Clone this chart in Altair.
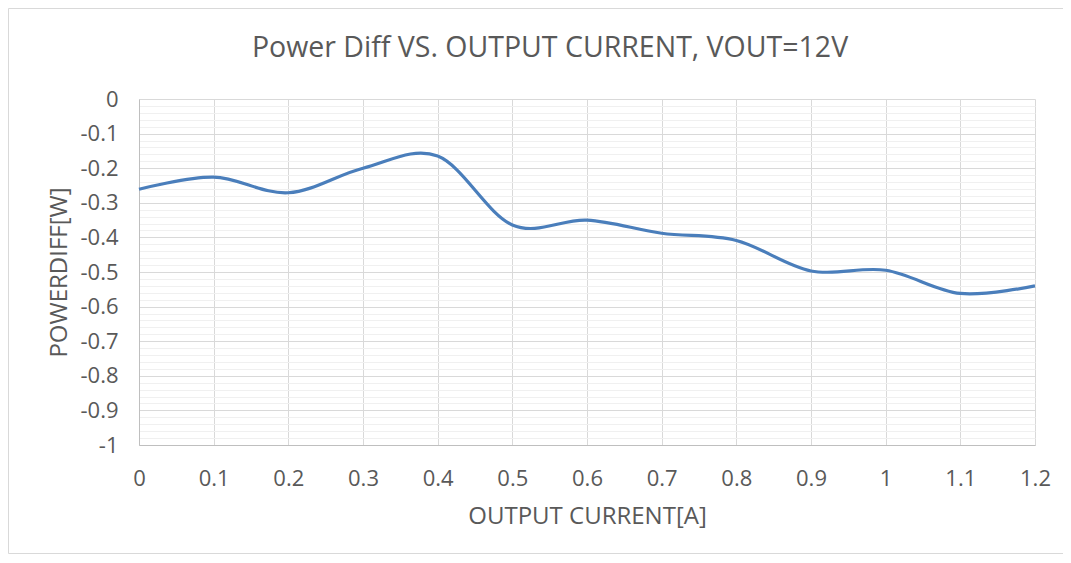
import altair as alt
import pandas as pd

current = [0.0, 0.1, 0.2, 0.3, 0.4, 0.5, 0.6, 0.7, 0.8, 0.9, 1.0, 1.1, 1.2]
power_diff = [-0.261, -0.226, -0.271, -0.200, -0.165, -0.364, -0.350,
              -0.388, -0.409, -0.497, -0.495, -0.562, -0.540]

x_ticks = [round(0.1 * i, 1) for i in range(13)]
y_ticks = [round(-1 + 0.02 * i, 2) for i in range(51)]

df = pd.DataFrame({"current": current, "power": power_diff})

FONT = "Open Sans"
TXT = "#595959"
MAJOR = "abs(datum.value*10 - round(datum.value*10)) < 0.001"

line = alt.Chart(df).mark_line(
    interpolate="cardinal", tension=0, color="#4a7ebb", strokeWidth=3.2
).encode(
    x=alt.X("current:Q",
            scale=alt.Scale(domain=[0, 1.2], nice=False, zero=False),
            axis=alt.Axis(values=x_ticks, title="OUTPUT CURRENT[A]",
                          labelExpr="'' + round(datum.value*10)/10",
                          labelFlush=False,
                          ticks=False, domainColor="#bfbfbf",
                          gridColor="#d9d9d9", labelPadding=23,
                          titlePadding=15)),
    y=alt.Y("power:Q",
            scale=alt.Scale(domain=[-1, 0], nice=False, zero=False),
            axis=alt.Axis(values=y_ticks, title="POWERDIFF[W]",
                          labelExpr="(" + MAJOR + ") ? '' + round(datum.value*10)/10 : ''",
                          labelFlush=False,
                          ticks=False, domainColor="#bfbfbf",
                          gridColor={"condition": {"test": MAJOR, "value": "#d9d9d9"},
                                     "value": "#f0f0f0"},
                          labelPadding=21, titleX=-73, titleBaseline="alphabetic")),
)

frame = alt.Chart(pd.DataFrame({"a": [0]})).mark_rect(
    fill=None, stroke="#d9d9d9", strokeWidth=1
).encode(
    x=alt.value(-130.5), x2=alt.value(924.5),
    y=alt.value(-90.5), y2=alt.value(454.5),
)

chart = alt.layer(frame, line).properties(
    width=896, height=346,
    autosize=alt.AutoSizeParams(type="none"),
    padding={"left": 131, "top": 91, "right": 28, "bottom": 110},
    title=alt.TitleParams("Power Diff VS. OUTPUT CURRENT, VOUT=12V",
                          font=FONT, fontSize=28.5, fontWeight="normal",
                          color=TXT, anchor="middle", dx=-37, offset=-54),
).configure_axis(
    labelFont=FONT, labelFontSize=22, labelColor=TXT,
    titleFont=FONT, titleFontSize=24, titleFontWeight="normal", titleColor=TXT,
).configure_view(stroke=None)

chart.save("out.html", embed_options={"renderer": "svg", "actions": False})
